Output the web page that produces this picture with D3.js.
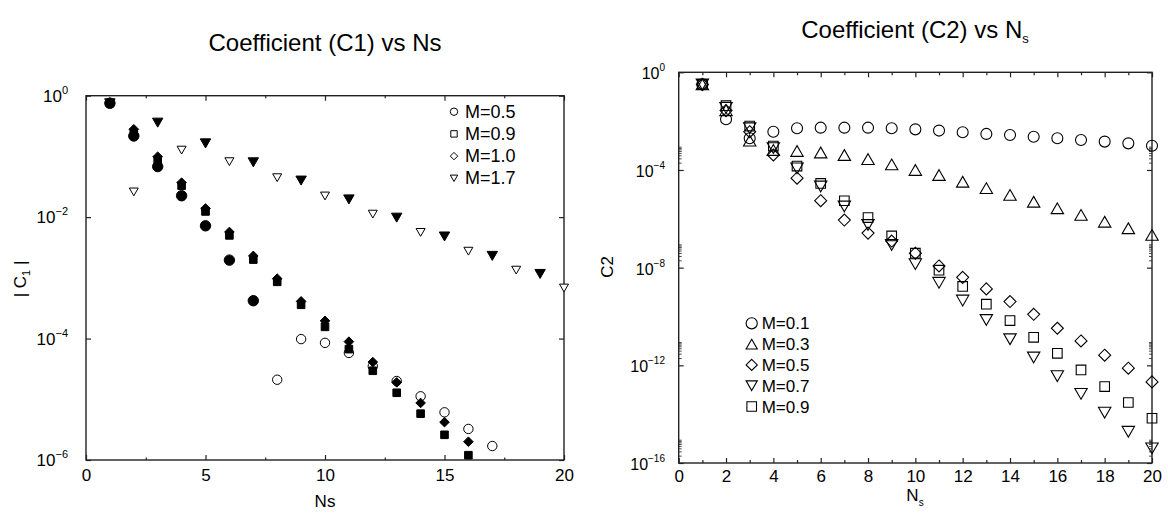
<!DOCTYPE html>
<html>
<head>
<meta charset="utf-8">
<script src="https://cdnjs.cloudflare.com/ajax/libs/d3/7.8.5/d3.min.js"></script>
<style>
  body { margin: 0; background: #fff; }
  text { font-family: "Liberation Sans", Arial, sans-serif; fill: #000; }
</style>
</head>
<body>
<div id="chart"></div>
<script>
// Ns values shared by both panels
var ns = [1, 2, 3, 4, 5, 6, 7, 8, 9, 10, 11, 12, 13, 14, 15, 16, 17, 18, 19, 20];

// left panel: |C1|, sign arrays -> 1 filled (positive), 0 open (negative)
var c1M05 = [0.75, 0.217, 0.068, 0.0225, 0.0072, 0.00196, 0.00042, 2.1e-5, 9.8e-5, 8.5e-5,
             5.8e-5, 3.5e-5, 2.0e-5, 1.12e-5, 6.1e-6, 3.25e-6, 1.7e-6];
var c1M05Sign = [1, 1, 1, 1, 1, 1, 1, 0, 0, 0, 0, 0, 0, 0, 0, 0, 0];
var c1M09 = [0.75, 0.25, 0.088, 0.033, 0.0124, 0.005, 0.002, 0.00086, 3.6e-4, 1.56e-4,
             6.7e-5, 2.95e-5, 1.28e-5, 5.8e-6, 2.6e-6, 1.2e-6];
var c1M09Sign = [1, 1, 1, 1, 1, 1, 1, 1, 1, 1, 1, 1, 1, 1, 1, 1];
var c1M10 = [0.78, 0.28, 0.099, 0.037, 0.0139, 0.0057, 0.0023, 0.00097, 4.1e-4, 1.96e-4,
             8.9e-5, 4.1e-5, 1.9e-5, 8.7e-6, 4.2e-6, 2.0e-6];
var c1M10Sign = [1, 1, 1, 1, 1, 1, 1, 1, 1, 1, 1, 1, 1, 1, 1, 1];
var c1M17 = [0.75, 0.026, 0.36, 0.127, 0.164, 0.082, 0.08, 0.0446, 0.04, 0.0223,
             0.0196, 0.0112, 0.0098, 0.0056, 0.0048, 0.00275, 0.0023, 0.00134, 0.00116, 0.00068];
var c1M17Sign = [1, 0, 1, 0, 1, 0, 1, 0, 1, 0, 1, 0, 1, 0, 1, 0, 1, 0, 1, 0];

// right panel: C2
var c2M01 = [3.2e-1, 1.2e-2, 2.0e-3, 3.7e-3, 5.1e-3, 5.4e-3, 5.4e-3, 5.4e-3, 5.1e-3, 4.6e-3,
             4.1e-3, 3.5e-3, 3.0e-3, 2.7e-3, 2.3e-3, 2.0e-3, 1.7e-3, 1.45e-3, 1.23e-3, 9.8e-4];
var c2M03 = [3.2e-1, 2.8e-2, 1.6e-3, 6.6e-4, 6.0e-4, 5.2e-4, 4.1e-4, 2.8e-4, 1.7e-4, 1.0e-4,
             6.2e-5, 3.3e-5, 1.8e-5, 9.5e-6, 5.0e-6, 2.7e-6, 1.45e-6, 7.6e-7, 4.1e-7, 2.2e-7];
var c2M05 = [3.2e-1, 2.7e-2, 3.7e-3, 4.1e-4, 4.6e-5, 5.5e-6, 8.9e-7, 2.6e-7, 1.23e-7, 3.9e-8,
             1.17e-8, 4.0e-9, 1.35e-9, 4.1e-10, 1.23e-10, 3.3e-11, 1.0e-11, 2.6e-12, 7.6e-13, 2.1e-13];
var c2M07 = [3.2e-1, 3.5e-2, 5.1e-3, 7.9e-4, 1.17e-4, 2.1e-5, 3.2e-6, 5.6e-7, 8.5e-8, 1.4e-8,
             2.4e-9, 4.5e-10, 7.2e-11, 1.17e-11, 2.1e-12, 3.6e-13, 6.8e-14, 1.15e-14, 1.9e-15, 4.0e-16];
var c2M09 = [3.2e-1, 4.3e-2, 6.3e-3, 9.5e-4, 1.45e-4, 2.8e-5, 5.5e-6, 1.12e-6, 2.0e-7, 3.9e-8,
             7.9e-9, 1.7e-9, 3.2e-10, 6.8e-11, 1.4e-11, 3.1e-12, 6.5e-13, 1.35e-13, 3.0e-14, 6.8e-15];

// tick values
var leftXMajor = [0, 5, 10, 15, 20];
var leftXMinor = [2.5, 7.5, 12.5, 17.5];
var leftYMajor = [1, 1e-2, 1e-4, 1e-6];
var leftYExp = ["0", "\u22122", "\u22124", "\u22126"];
var rightXMajor = [0, 2, 4, 6, 8, 10, 12, 14, 16, 18, 20];
var rightXMinor = [1, 3, 5, 7, 9, 11, 13, 15, 17, 19];
var rightYMajor = [1, 1e-4, 1e-8, 1e-12, 1e-16];
var rightYExp = ["0", "\u22124", "\u22128", "\u221212", "\u221216"];
var rightYMinorDecades = [1e-4, 1e-8, 1e-12, 1e-16];
var minorMult = [2, 3, 4, 5, 6, 7, 8, 9];

var svg = d3.select("#chart").append("svg")
  .attr("width", 1168)
  .attr("height", 514);

// marker outlines centred on 0,0
function shape(type, r) {
  var h = r * Math.sqrt(3) / 2;
  if (type == "circle")
    return "M" + r + ",0A" + r + "," + r + " 0 1,1 " + (-r) + ",0A" + r + "," + r + " 0 1,1 " + r + ",0Z";
  if (type == "square")
    return "M" + (-r) + "," + (-r) + "H" + r + "V" + r + "H" + (-r) + "Z";
  if (type == "diamond")
    return "M0," + (-r) + "L" + r + ",0L0," + r + "L" + (-r) + ",0Z";
  if (type == "up")
    return "M0," + (-h) + "L" + r + "," + h + "L" + (-r) + "," + h + "Z";
  if (type == "down")
    return "M0," + h + "L" + r + "," + (-h) + "L" + (-r) + "," + (-h) + "Z";
}

function powLabel(sel, exp, size, supSize, rise) {
  sel.append("tspan").text("10").attr("font-size", size);
  sel.append("tspan").text(exp).attr("font-size", supSize).attr("dy", -rise);
}

function frame(g, x, y) {
  g.append("rect")
    .attr("x", x.range()[0]).attr("y", y.range()[1])
    .attr("width", x.range()[1] - x.range()[0])
    .attr("height", y.range()[0] - y.range()[1])
    .attr("fill", "none").attr("stroke", "#222").attr("stroke-width", 1.4);
}

function ticks(g, axis, transform) {
  var a = g.append("g").attr("transform", transform).call(axis);
  a.select(".domain").remove();
  a.selectAll("line").attr("stroke", "#222").attr("stroke-width", 1.2);
  return a;
}

// ---------------- left panel ----------------
var xL = d3.scaleLinear().domain([0, 20]).range([86, 564]);
var yL = d3.scaleLog().domain([1e-6, 1]).range([460, 95.7]);
var gL = svg.append("g");

var botL = ticks(gL, d3.axisBottom(xL).tickValues(leftXMajor).tickSize(-5).tickPadding(9).tickFormat(d3.format("d")),
  "translate(0," + yL.range()[0] + ")");
botL.selectAll("text").attr("font-size", 17).attr("font-family", "Liberation Sans, Arial, sans-serif");
ticks(gL, d3.axisBottom(xL).tickValues(leftXMinor).tickSize(-2.5).tickFormat(""), "translate(0," + yL.range()[0] + ")");
ticks(gL, d3.axisTop(xL).tickValues(leftXMajor).tickSize(-5).tickFormat(""), "translate(0," + yL.range()[1] + ")");
ticks(gL, d3.axisTop(xL).tickValues(leftXMinor).tickSize(-2.5).tickFormat(""), "translate(0," + yL.range()[1] + ")");
ticks(gL, d3.axisLeft(yL).tickValues(leftYMajor).tickSize(-5).tickFormat(""), "translate(" + xL.range()[0] + ",0)");
ticks(gL, d3.axisRight(yL).tickValues(leftYMajor).tickSize(-5).tickFormat(""), "translate(" + xL.range()[1] + ",0)");
frame(gL, xL, yL);

leftYMajor.forEach(function(v, i) {
  var t = gL.append("text").attr("x", 68).attr("y", yL(v) + 6).attr("text-anchor", "end");
  powLabel(t, leftYExp[i], 17, 11, 8);
});

gL.append("text").attr("x", 325).attr("y", 50.7).attr("text-anchor", "middle")
  .attr("font-size", 24).text("Coefficient (C1) vs Ns");
gL.append("text").attr("x", 325).attr("y", 507).attr("text-anchor", "middle")
  .attr("font-size", 17).text("Ns");
var yt = gL.append("text").attr("transform", "translate(26,279) rotate(-90)").attr("text-anchor", "middle").attr("font-size", 17);
yt.append("tspan").text("| C");
yt.append("tspan").text("1").attr("font-size", 11).attr("dy", 4);
yt.append("tspan").text(" |").attr("dy", -4);

var leftSeries = [
  { name: "M=0.5", vals: c1M05, sign: c1M05Sign, type: "circle", r: 4.7, rf: 5.2 },
  { name: "M=0.9", vals: c1M09, sign: c1M09Sign, type: "square", r: 3.6, rf: 3.8 },
  { name: "M=1.0", vals: c1M10, sign: c1M10Sign, type: "diamond", r: 4.5, rf: 4.8 },
  { name: "M=1.7", vals: c1M17, sign: c1M17Sign, type: "down", r: 4.5, rf: 5.2 }
];

leftSeries.forEach(function(s) {
  gL.append("g").selectAll("path")
    .data(s.vals)
    .enter().append("path")
    .attr("transform", function(d, i) { return "translate(" + xL(ns[i]) + "," + yL(d) + ")"; })
    .attr("d", function(d, i) { return shape(s.type, s.sign[i] ? s.rf : s.r); })
    .attr("fill", function(d, i) { return s.sign[i] ? "#000" : "#fff"; })
    .attr("stroke", "#000")
    .attr("stroke-width", 1);
});

leftSeries.forEach(function(s, i) {
  var cy = 111.7 + i * 22.2;
  gL.append("path").attr("transform", "translate(454," + cy + ")")
    .attr("d", shape(s.type, s.type == "square" ? 3.2 : 3.7))
    .attr("fill", "none").attr("stroke", "#000").attr("stroke-width", 1);
  gL.append("text").attr("x", 465).attr("y", cy + 6).attr("font-size", 18).text(s.name);
});

// ---------------- right panel ----------------
var xR = d3.scaleLinear().domain([0, 20]).range([678.7, 1152]);
var yR = d3.scaleLog().domain([1e-16, 1]).range([463, 72.3]);
var gR = svg.append("g");

var minorY = [];
rightYMinorDecades.forEach(function(dec) {
  minorMult.forEach(function(m) { minorY.push(dec * m); });
});

var botR = ticks(gR, d3.axisBottom(xR).tickValues(rightXMajor).tickSize(-5).tickPadding(7).tickFormat(d3.format("d")),
  "translate(0," + yR.range()[0] + ")");
botR.selectAll("text").attr("font-size", 17).attr("font-family", "Liberation Sans, Arial, sans-serif");
ticks(gR, d3.axisBottom(xR).tickValues(rightXMinor).tickSize(-3).tickFormat(""), "translate(0," + yR.range()[0] + ")");
ticks(gR, d3.axisTop(xR).tickValues(rightXMajor).tickSize(-5).tickFormat(""), "translate(0," + yR.range()[1] + ")");
ticks(gR, d3.axisTop(xR).tickValues(rightXMinor).tickSize(-3).tickFormat(""), "translate(0," + yR.range()[1] + ")");
ticks(gR, d3.axisLeft(yR).tickValues(rightYMajor).tickSize(-5).tickFormat(""), "translate(" + xR.range()[0] + ",0)");
ticks(gR, d3.axisLeft(yR).tickValues(minorY).tickSize(-3).tickFormat(""), "translate(" + xR.range()[0] + ",0)")
  .selectAll("line").attr("stroke-width", 0.8);
ticks(gR, d3.axisRight(yR).tickValues(rightYMajor).tickSize(-5).tickFormat(""), "translate(" + xR.range()[1] + ",0)");
ticks(gR, d3.axisRight(yR).tickValues(minorY).tickSize(-3).tickFormat(""), "translate(" + xR.range()[1] + ",0)")
  .selectAll("line").attr("stroke-width", 0.8);
frame(gR, xR, yR);

rightYMajor.forEach(function(v, i) {
  var t = gR.append("text").attr("x", 665).attr("y", yR(v) + 7).attr("text-anchor", "end");
  powLabel(t, rightYExp[i], 16, 10, 8);
});

var tt = gR.append("text").attr("x", 915).attr("y", 38.3).attr("text-anchor", "middle").attr("font-size", 24);
tt.append("tspan").text("Coefficient (C2) vs N");
tt.append("tspan").text("s").attr("font-size", 13).attr("dy", 5);
var xt = gR.append("text").attr("x", 915).attr("y", 501).attr("text-anchor", "middle").attr("font-size", 17);
xt.append("tspan").text("N");
xt.append("tspan").text("s").attr("font-size", 10).attr("dy", 5);
gR.append("text").attr("transform", "translate(613,267) rotate(-90)").attr("text-anchor", "middle")
  .attr("font-size", 17).text("C2");

var rightSeries = [
  { name: "M=0.1", vals: c2M01, type: "circle", r: 5.5 },
  { name: "M=0.3", vals: c2M03, type: "up", r: 6.2 },
  { name: "M=0.5", vals: c2M05, type: "diamond", r: 6 },
  { name: "M=0.7", vals: c2M07, type: "down", r: 6.2 },
  { name: "M=0.9", vals: c2M09, type: "square", r: 4.8 }
];

rightSeries.forEach(function(s) {
  gR.append("g").selectAll("path")
    .data(s.vals)
    .enter().append("path")
    .attr("transform", function(d, i) { return "translate(" + xR(ns[i]) + "," + yR(d) + ")"; })
    .attr("d", shape(s.type, s.r))
    .attr("fill", "none")
    .attr("stroke", "#000")
    .attr("stroke-width", 1.1);
});

rightSeries.forEach(function(s, i) {
  var cy = 323.3 + i * 20.8;
  gR.append("path").attr("transform", "translate(751.7," + cy + ")")
    .attr("d", shape(s.type, s.type == "square" ? 4.8 : 5.6))
    .attr("fill", "none").attr("stroke", "#000").attr("stroke-width", 1.1);
  gR.append("text").attr("x", 761.7).attr("y", cy + 6).attr("font-size", 17).text(s.name);
});
</script>
</body>
</html>
